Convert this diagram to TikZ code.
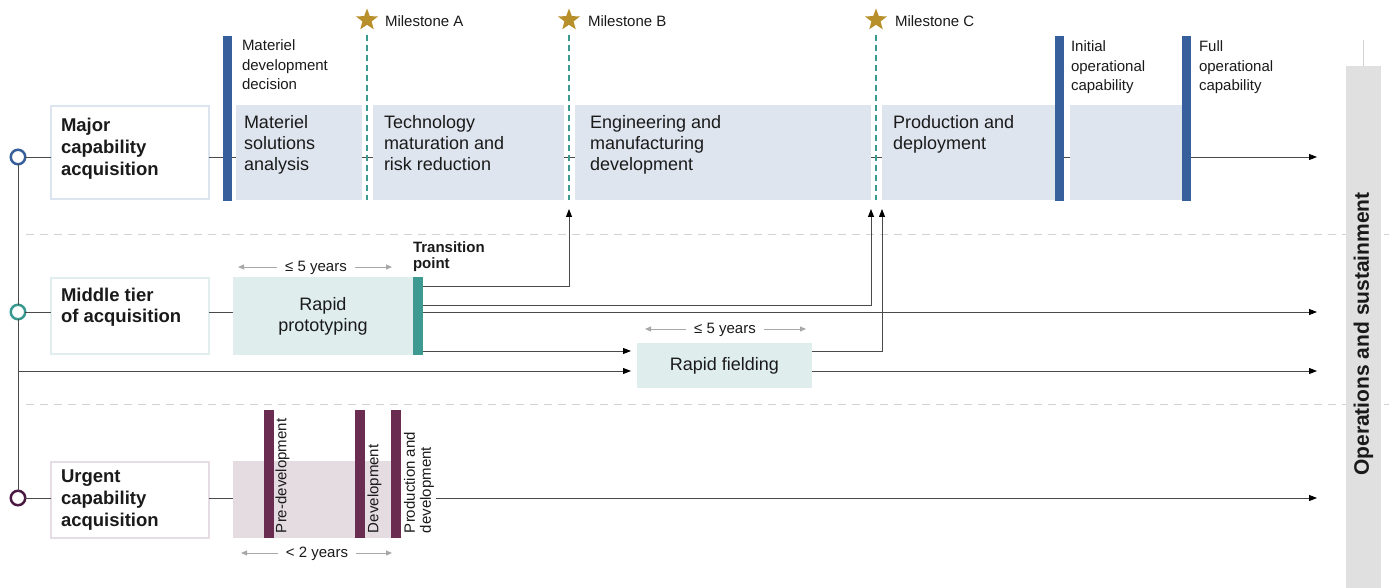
\documentclass[tikz,border=0pt]{standalone}
\usepackage{fontspec}
\setmainfont{Liberation Sans}
\usetikzlibrary{arrows.meta,shapes.geometric}
\definecolor{barblue}{HTML}{365F9C}
\definecolor{phaseblue}{HTML}{DFE5EF}
\definecolor{boxblue}{HTML}{DCE4EF}
\definecolor{msteal}{HTML}{3B9A8F}
\definecolor{tbteal}{HTML}{3E9A90}
\definecolor{tealfill}{HTML}{DFEEED}
\definecolor{tealbox}{HTML}{E0EEEE}
\definecolor{plumbar}{HTML}{6A2C50}
\definecolor{plumfill}{HTML}{E5DCE2}
\definecolor{plumbox}{HTML}{E6DCE4}
\definecolor{plumring}{HTML}{4A1942}
\definecolor{stargold}{HTML}{B8902B}
\definecolor{opsgray}{HTML}{E0E0E0}
\definecolor{linegray}{HTML}{4A4A4A}
\definecolor{sepgray}{HTML}{D3D3D3}
\definecolor{yrgray}{HTML}{A8A8A8}
\definecolor{txt}{HTML}{1A1A1A}
\newcommand\fphase{\fontsize{18}{21}\selectfont}
\newcommand\flabel{\fontsize{18.5}{22}\selectfont\bfseries}
\newcommand\fsmall{\fontsize{15}{19.5}\selectfont}
\newcommand\fops{\fontsize{21}{24}\selectfont\bfseries}
\begin{document}
\begin{tikzpicture}[x=1pt,y=-1pt,
  every node/.style={text=txt,inner sep=0pt,outer sep=0pt},
  blk/.style={draw=none,anchor=north west,inner sep=0pt,outer sep=0pt},
  lbox/.style={anchor=north west,fill=white,line width=2.5pt},
  conn/.style={draw=linegray,line width=0.9pt},
  arr/.style={-{Triangle[length=8pt,width=6pt,color=black]},draw=linegray,line width=0.9pt},
  yarrow/.style={-{Triangle[length=6pt,width=5pt]},draw=yrgray,line width=0.9pt,color=yrgray},
  msline/.style={draw=msteal,line width=2.5pt,dash pattern=on 6pt off 4pt},
  sepline/.style={draw=sepgray,line width=0.9pt,dash pattern=on 8pt off 6pt},
  ring/.style={circle,draw,line width=2.5pt,fill=white,minimum size=14.5pt},
  mstar/.style={star,star points=5,star point ratio=2.4,fill=stargold,minimum size=23pt},
  txtnw/.style={anchor=north west,align=left},
]
\useasboundingbox (0,0) rectangle (1389,588);

% separators
\coordinate (s1a) at (26,234); \coordinate (s1b) at (1389,234);
\coordinate (s2a) at (26,404); \coordinate (s2b) at (1389,404);
\draw[sepline] (s1a) -- (s1b);
\draw[sepline] (s2a) -- (s2b);

% operations band
\node[blk,fill=opsgray,minimum width=35,minimum height=522] (ops) at (1346,66) {};
\coordinate (opstop) at (1363.5,40);
\draw[draw=sepgray,line width=0.9pt] (opstop) -- (ops.north);
\node[rotate=90,font=\fops] (opstext) at (1363.5,334) {Operations and sustainment};

% circles and spine
\node[ring,draw=barblue] (c1) at (18,157) {};
\node[ring,draw=msteal] (c2) at (18,312) {};
\node[ring,draw=plumring] (c3) at (18,498) {};
\draw[conn] (c1) -- (c2);
\draw[conn] (c2) -- (c3);

% label boxes
\node[lbox,draw=boxblue,minimum width=158,minimum height=93] (box1) at (51,106) {};
\node[lbox,draw=tealbox,minimum width=158,minimum height=76] (box2) at (51,278) {};
\node[lbox,draw=plumbox,minimum width=158,minimum height=76] (box3) at (51,462) {};
\node[txtnw,font=\flabel] (lab1) at (61,118) {Major\\capability\\acquisition};
\node[txtnw,font=\fontsize{18.5}{21}\selectfont\bfseries] (lab2) at (61,288) {Middle tier\\of acquisition};
\node[txtnw,font=\flabel] (lab3) at (61,470) {Urgent\\capability\\acquisition};

% coordinates for connectors
\coordinate (endT) at (1317,157);
\coordinate (endM) at (1317,312);
\coordinate (endG) at (1317,371);
\coordinate (endU) at (1317,498);
\coordinate (yB) at (0,286);
\coordinate (yC) at (0,305);
\coordinate (yF) at (0,351);
\coordinate (yG) at (18,371);
\coordinate (pB) at (569,209);
\coordinate (pC1) at (871,209);
\coordinate (pC2) at (882,209);
\coordinate (uS) at (436,498);

% top row main line
\draw[conn] (c1.east) -- (c1 -| box1.west);
\draw[arr] (box1.east |- c1) -- (endT);

% top row phases
\node[blk,fill=phaseblue,minimum width=126,minimum height=95] (ph1) at (236,105) {};
\node[blk,fill=phaseblue,minimum width=191,minimum height=95] (ph2) at (373,105) {};
\node[blk,fill=phaseblue,minimum width=296,minimum height=95] (ph3) at (575,105) {};
\node[blk,fill=phaseblue,minimum width=173,minimum height=95] (ph4) at (882,105) {};
\node[blk,fill=phaseblue,minimum width=112,minimum height=95] (ph5) at (1070,105) {};
\node[blk,fill=barblue,minimum width=8.5,minimum height=165] (bMDD) at (223,36) {};
\node[blk,fill=barblue,minimum width=9,minimum height=165] (bIOC) at (1055,36) {};
\node[blk,fill=barblue,minimum width=9,minimum height=165] (bFOC) at (1182,36) {};

\node[txtnw,font=\fphase] (t1) at (244,115) {Materiel\\solutions\\analysis};
\node[txtnw,font=\fphase] (t2) at (384,115) {Technology\\maturation and\\risk reduction};
\node[txtnw,font=\fphase] (t3) at (590,115) {Engineering and\\manufacturing\\development};
\node[txtnw,font=\fphase] (t4) at (893,115) {Production and\\deployment};
\node[txtnw,font=\fsmall] (tMDD) at (242,40) {Materiel\\development\\decision};
\node[txtnw,font=\fsmall] (tIOC) at (1071,41) {Initial\\operational\\capability};
\node[txtnw,font=\fsmall] (tFOC) at (1199,41) {Full\\operational\\capability};

% milestones
\coordinate (mAt) at (367,35); \coordinate (mAb) at (367,200);
\coordinate (mBt) at (569,35); \coordinate (mBb) at (569,200);
\coordinate (mCt) at (876,35); \coordinate (mCb) at (876,200);
\draw[msline] (mAt) -- (mAb);
\draw[msline] (mBt) -- (mBb);
\draw[msline] (mCt) -- (mCb);
\node[mstar] (sA) at (367,20) {};
\node[mstar] (sB) at (569,20) {};
\node[mstar] (sC) at (876,20) {};
\node[anchor=west,font=\fsmall] (tA) at (385,21) {Milestone A};
\node[anchor=west,font=\fsmall] (tB) at (588,21) {Milestone B};
\node[anchor=west,font=\fsmall] (tC) at (895,21) {Milestone C};

% middle tier
\draw[conn] (c2.east) -- (c2 -| box2.west);
\node[blk,fill=tealfill,minimum width=180,minimum height=78] (rp) at (233,277) {};
\node[blk,fill=tbteal,minimum width=10,minimum height=78] (tb) at (413,277) {};
\draw[conn] (box2.east |- c2) -- (rp.west |- c2);
\node[align=center,font=\fphase] (rptext) at (rp.center) {Rapid\\prototyping};
\node[txtnw,font=\fontsize{15}{16}\selectfont\bfseries] (ttp) at (413,242) {Transition\\point};
\draw[arr] (tb.east |- yB) -| (pB);
\draw[arr] (tb.east |- yC) -| (pC1);
\draw[arr] (tb.east |- c2) -- (endM);

\node[blk,fill=tealfill,minimum width=175,minimum height=45] (rf) at (637,343) {};
\node[font=\fphase] (rftext) at (rf.center) {Rapid fielding};
\draw[arr] (tb.east |- yF) -- ([xshift=-6pt]rf.west |- yF);
\draw[arr] (rf.east |- yF) -| (pC2);
\draw[arr] (yG) -- ([xshift=-6pt]rf.west |- yG);
\draw[arr] (rf.east |- yG) -- (endG);

% years markers (middle)
\coordinate (ya1L) at (238,267); \coordinate (ya1R) at (392,267);
\node[font=\fsmall] (ya1) at (316,268) {≤ 5 years};
\draw[yarrow] ([xshift=-8pt]ya1.west |- ya1L) -- (ya1L);
\draw[yarrow] ([xshift=8pt]ya1.east |- ya1R) -- (ya1R);
\coordinate (ya2L) at (645,329); \coordinate (ya2R) at (806,329);
\node[font=\fsmall] (ya2) at (725,330) {≤ 5 years};
\draw[yarrow] ([xshift=-8pt]ya2.west |- ya2L) -- (ya2L);
\draw[yarrow] ([xshift=8pt]ya2.east |- ya2R) -- (ya2R);

% urgent
\draw[conn] (c3.east) -- (c3 -| box3.west);
\node[blk,fill=plumfill,minimum width=158,minimum height=77] (ur) at (233,461) {};
\draw[conn] (box3.east |- c3) -- (ur.west |- c3);
\node[blk,fill=plumbar,minimum width=9.5,minimum height=128] (u1) at (264,410) {};
\node[blk,fill=plumbar,minimum width=10,minimum height=128] (u2) at (355,410) {};
\node[blk,fill=plumbar,minimum width=10,minimum height=128] (u3) at (391,410) {};
\node[rotate=90,anchor=north west,font=\fsmall] (ut1) at (275.5,533) {Pre-development};
\node[rotate=90,anchor=north west,font=\fsmall] (ut2) at (367.5,533) {Development};
\node[rotate=90,anchor=north west,align=left,font=\fontsize{15}{16}\selectfont] (ut3) at (404,533) {Production and\\development};
\draw[arr] (uS) -- (endU);
\coordinate (ya3L) at (241,553); \coordinate (ya3R) at (392,553);
\node[font=\fsmall] (ya3) at (317,554) {< 2 years};
\draw[yarrow] ([xshift=-8pt]ya3.west |- ya3L) -- (ya3L);
\draw[yarrow] ([xshift=8pt]ya3.east |- ya3R) -- (ya3R);
\end{tikzpicture}
\end{document}
